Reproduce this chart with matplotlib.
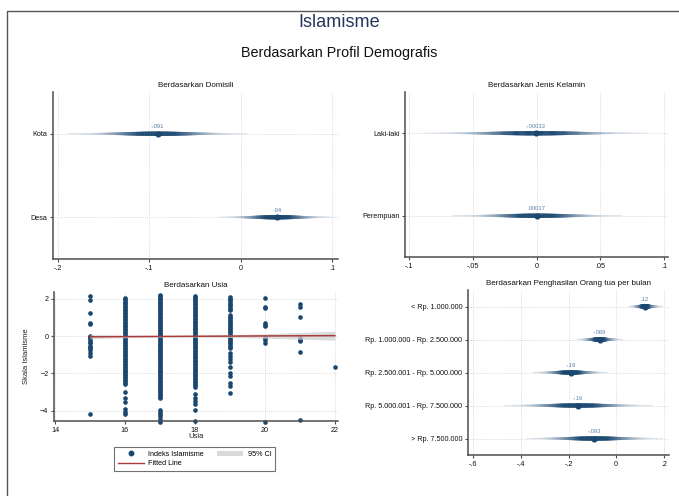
import numpy as np
import matplotlib
matplotlib.use("Agg")
import matplotlib.pyplot as plt
from matplotlib.lines import Line2D
from matplotlib.patches import Patch
from matplotlib.collections import PolyCollection
from matplotlib.colors import to_rgb
from matplotlib.ticker import FuncFormatter

plt.rcParams['font.family'] = ['Liberation Sans', 'DejaVu Sans']

# ---- Domisili (residence) ----
dom_labels = ["Kota", "Desa"]
dom_est = [-0.091, 0.04]
dom_lo = [-0.189, -0.023]
dom_hi = [0.007, 0.103]

# ---- Jenis kelamin (sex) ----
sex_labels = ["Laki-laki", "Perempuan"]
sex_est = [-0.00033, 0.00017]
sex_lo = [-0.087, -0.066]
sex_hi = [0.086, 0.067]

# ---- Penghasilan orang tua (parental income) ----
inc_labels = ["< Rp. 1.000.000", "Rp. 1.000.000 - Rp. 2.500.000",
              "Rp. 2.500.001 - Rp. 5.000.000", "Rp. 5.000.001 - Rp. 7.500.000",
              "> Rp. 7.500.000"]
inc_est = [0.12, -0.069, -0.19, -0.16, -0.093]
inc_lo = [0.053, -0.165, -0.349, -0.466, -0.374]
inc_hi = [0.195, 0.028, -0.035, 0.153, 0.195]

# ---- Usia (age) vs Islamism scale ----
ages = [15, 16, 17, 18, 19, 20, 21, 22]
scores_15 = [2.17, 1.93, 1.27, 0.72, 0.68, 0.02, -0.04, -0.12, -0.21, -0.30,
             -0.39, -0.50, -0.57, -0.66, -0.74, -0.92, -1.04, -4.17]
scores_16 = [2.05, 1.99, 1.93, 1.86, 1.78, 1.71, 1.64, 1.55, 1.47, 1.40, 1.33,
             1.24, 1.17, 1.09, 1.01, 0.94, 0.86, 0.77, 0.70, 0.62, 0.54, 0.47,
             0.39, 0.31, 0.23, 0.16, 0.08, 0.01, -0.07, -0.15, -0.23, -0.31,
             -0.38, -0.46, -0.54, -0.62, -0.70, -0.77, -0.85, -0.93, -1.01,
             -1.09, -1.16, -1.24, -1.32, -1.40, -1.48, -1.55, -1.63, -1.71,
             -1.79, -1.87, -1.94, -2.02, -2.10, -2.18, -2.26, -2.33, -2.41,
             -2.49, -2.58, -2.97, -3.32, -3.55, -3.88, -4.05, -4.15]
scores_17 = [2.21, 2.15, 2.08, 2.01, 1.93, 1.86, 1.79, 1.71, 1.63, 1.56, 1.48,
             1.41, 1.33, 1.25, 1.18, 1.10, 1.03, 0.95, 0.87, 0.80, 0.72, 0.65,
             0.57, 0.49, 0.42, 0.34, 0.27, 0.19, 0.11, 0.04, -0.04, -0.11,
             -0.19, -0.27, -0.34, -0.42, -0.49, -0.57, -0.65, -0.72, -0.80,
             -0.87, -0.95, -1.03, -1.10, -1.18, -1.25, -1.33, -1.41, -1.48,
             -1.56, -1.63, -1.71, -1.79, -1.86, -1.94, -2.01, -2.09, -2.17,
             -2.24, -2.32, -2.39, -2.47, -2.55, -2.62, -2.70, -2.77, -2.85,
             -2.93, -3.00, -3.08, -3.16, -3.24, -3.31, -3.95, -4.06, -4.18,
             -4.30, -4.45, -4.58]
scores_18 = [2.18, 2.11, 2.04, 1.96, 1.89, 1.81, 1.74, 1.66, 1.59, 1.51, 1.44,
             1.36, 1.29, 1.21, 1.14, 1.06, 0.99, 0.91, 0.84, 0.76, 0.69, 0.61,
             0.54, 0.46, 0.39, 0.31, 0.24, 0.16, 0.09, 0.01, -0.06, -0.14,
             -0.21, -0.29, -0.36, -0.44, -0.51, -0.59, -0.66, -0.74, -0.81,
             -0.89, -0.96, -1.04, -1.11, -1.19, -1.26, -1.34, -1.41, -1.49,
             -1.56, -1.64, -1.71, -1.79, -1.86, -1.94, -2.01, -2.09, -2.16,
             -2.24, -2.31, -2.39, -2.46, -2.54, -2.61, -2.70, -3.10, -3.30,
             -3.48, -3.66, -3.98, -4.55]
scores_19 = [2.09, 2.01, 1.92, 1.83, 1.74, 1.65, 1.56, 1.47, 1.38, 1.11, 1.03,
             0.95, 0.86, 0.78, 0.70, 0.61, 0.53, 0.45, 0.36, 0.28, 0.20, 0.11,
             0.03, -0.06, -0.14, -0.22, -0.31, -0.39, -0.47, -0.56, -0.65,
             -0.92, -1.08, -1.22, -1.40, -1.63, -1.96, -2.12, -2.52, -2.66,
             -3.04]
scores_20 = [2.03, 1.58, 1.50, 0.70, 0.62, 0.55, -0.04, -0.12, -0.20, -0.36,
             -4.60]
scores_21 = [1.72, 1.58, 1.05, -0.10, -0.18, -0.26, -0.84, -4.49]
scores_22 = [-1.63]
scores = [scores_15, scores_16, scores_17, scores_18, scores_19, scores_20,
          scores_21, scores_22]

# linear fit and its 95% confidence band
fit_x = [15, 22]
fit_y = [-0.03, 0.03]
band_x = [15, 16, 17, 18, 19, 20, 21, 22]
band_lo = [-0.14, -0.08, -0.05, -0.05, -0.07, -0.11, -0.16, -0.21]
band_hi = [0.08, 0.04, 0.03, 0.04, 0.07, 0.13, 0.20, 0.27]

NAVY = "#1a476f"
LIGHT = "#e8edf3"
RED = "#a83c3c"
GRID = "#cfcfcf"
SPINE = "#4d4d4d"
LABEL = "#5b7fa6"

W, H = 679, 496
fig = plt.figure(figsize=(W / 100, H / 100), dpi=100)


def frac(left, top, right, bottom):
    return [left / W, 1 - bottom / H, (right - left) / W, (bottom - top) / H]


def stata_num(v, pos=None):
    s = f"{v:g}"
    if s in ("0", "-0"):
        return "0"
    return s.replace("0.", ".", 1)


def style_axes(ax):
    for s in ("top", "right"):
        ax.spines[s].set_visible(False)
    for s in ("left", "bottom"):
        ax.spines[s].set_color(SPINE)
        ax.spines[s].set_linewidth(1.1)
    ax.tick_params(length=2.5, width=0.8, color=SPINE, labelsize=5.2,
                   pad=1.5, direction="out", labelcolor="#111111")


def eye(ax, y, est, lo, hi, half_px):
    """Shaded 'eye' of the sampling distribution between lo and hi."""
    pos = ax.get_position()
    y0, y1 = ax.get_ylim()
    half = half_px * abs(y1 - y0) / (pos.height * H)
    xs = np.linspace(lo, hi, 240)
    t = np.where(xs < est, (xs - est) / (est - lo), (xs - est) / (hi - est))
    dens = np.exp(-0.5 * (2.6 * t) ** 2)
    thick = half * (0.12 + 0.88 * dens)
    navy, light = np.array(to_rgb(NAVY)), np.array(to_rgb(LIGHT))
    polys, cols = [], []
    for i in range(len(xs) - 1):
        polys.append([(xs[i], y - thick[i]), (xs[i + 1], y - thick[i + 1]),
                      (xs[i + 1], y + thick[i + 1]), (xs[i], y + thick[i])])
        w = min(1.0, 1.15 * (0.5 * (dens[i] + dens[i + 1])) ** 1.1)
        cols.append(tuple(light * (1 - w) + navy * w))
    pc = PolyCollection(polys, facecolors=cols, edgecolors=cols,
                        linewidths=0.3, zorder=3)
    ax.add_collection(pc)


def forest(rect, title, labels, est, lo, hi, xticks, xlim):
    ax = fig.add_axes(frac(*rect))
    n = len(labels)
    ypos = np.arange(1, n + 1)
    ax.set_xlim(*xlim)
    ax.set_ylim(n + 0.5, 0.5)
    style_axes(ax)
    ax.set_yticks(ypos)
    ax.set_yticklabels(labels)
    ax.set_xticks(xticks)
    ax.xaxis.set_major_formatter(FuncFormatter(stata_num))
    for xv in xticks:
        ax.axvline(xv, color=GRID, lw=0.6, ls=(0, (1, 1.5)), zorder=1)
    for yv in ypos:
        ax.axhline(yv, color=GRID, lw=0.6, ls=(0, (1, 1.5)), zorder=1)
    for yv, e, l, h in zip(ypos, est, lo, hi):
        eye(ax, yv, e, l, h, 2.0)
        ax.plot(e, yv, "o", color=NAVY, ms=3.4, mec=NAVY, zorder=5)
        ax.annotate(stata_num(e), (e, yv), xytext=(0, 3.2),
                    textcoords="offset points", ha="center", va="bottom",
                    fontsize=4.2, color=LABEL, zorder=6)
    ax.set_title(title, fontsize=5.8, pad=3.5, color="#111111")
    return ax


# headline
fig.text(0.5, 1 - 27 / H, "Islamisme", ha="center", va="baseline",
         fontsize=13.1, color="#24355e")
fig.text(0.5, 1 - 57 / H, "Berdasarkan Profil Demografis", ha="center",
         va="baseline", fontsize=10.4, color="#111111")

forest((53, 92, 338, 259), "Berdasarkan Domisili", dom_labels, dom_est,
       dom_lo, dom_hi, [-0.2, -0.1, 0, 0.1], (-0.2055, 0.1066))
forest((405, 92, 668, 257), "Berdasarkan Jenis Kelamin", sex_labels, sex_est,
       sex_lo, sex_hi, [-0.1, -0.05, 0, 0.05, 0.1], (-0.1031, 0.1031))
forest((468, 290, 669, 455), "Berdasarkan Penghasilan Orang tua per bulan",
       inc_labels, inc_est, inc_lo, inc_hi, [-0.6, -0.4, -0.2, 0, 0.2],
       (-0.621, 0.221))

# age scatter with fitted line
ax3 = fig.add_axes(frac(54, 292, 338, 421))
ax3.set_xlim(13.97, 22.09)
ax3.set_ylim(-4.55, 2.37)
style_axes(ax3)
xt = [14, 16, 18, 20, 22]
yt = [-4, -2, 0, 2]
ax3.set_xticks(xt)
ax3.set_yticks(yt)
for xv in xt:
    ax3.axvline(xv, color=GRID, lw=0.6, ls=(0, (1, 1.5)), zorder=1)
for yv in yt:
    ax3.axhline(yv, color=GRID, lw=0.6, ls=(0, (1, 1.5)), zorder=1)
for age, vals in zip(ages, scores):
    ax3.scatter(np.full(len(vals), age), vals, s=11, color=NAVY, lw=0,
                zorder=2, clip_on=False)
ax3.fill_between(band_x, band_lo, band_hi, color="#cfcfcf", alpha=0.75,
                 lw=0, zorder=3)
ax3.plot(fit_x, fit_y, color=RED, lw=1.1, zorder=4)
ax3.set_title("Berdasarkan Usia", fontsize=5.8, pad=3.5, color="#111111")
ax3.set_xlabel("Usia", fontsize=5.5, color="#222222")
ax3.xaxis.set_label_coords(0.5, -0.095)
ax3.set_ylabel("Skala Islamisme", fontsize=5.5, color="#222222")
ax3.yaxis.set_label_coords(-0.085, 0.5)

handles = [Line2D([], [], ls="none", marker="o", ms=3.2, color=NAVY),
           Line2D([], [], color=RED, lw=1.0),
           Patch(facecolor="#d9d9d9", edgecolor="none")]
leg = fig.legend(handles, ["Indeks Islamisme", "Fitted Line", "95% CI"],
                 loc="center", bbox_to_anchor=(194.5 / W, 1 - 459 / H),
                 ncol=2, fontsize=5.2, frameon=True, fancybox=False,
                 edgecolor=SPINE, handlelength=3.6, handletextpad=0.6,
                 columnspacing=1.9, labelspacing=0.35, borderpad=0.45)
leg.get_frame().set_linewidth(0.8)

# outer frame
fig.add_artist(Line2D([6.5 / W, 6.5 / W, 1.0], [0.0, 1 - 11 / H, 1 - 11 / H],
                      transform=fig.transFigure, color="#555555", lw=1.0))

fig.savefig("out.png", dpi=100)
